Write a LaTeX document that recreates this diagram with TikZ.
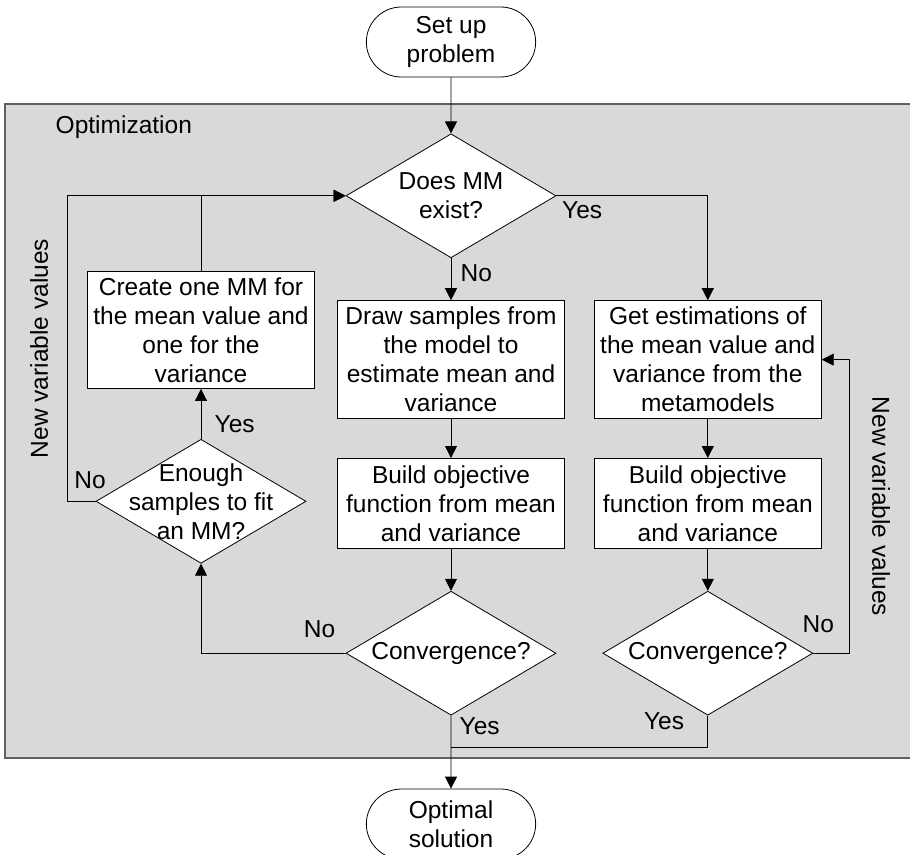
\documentclass[tikz,border=0pt]{standalone}
\usepackage{fontspec}
\setmainfont{Liberation Sans}
\usetikzlibrary{arrows.meta,positioning,shapes.geometric,shapes.misc}
\definecolor{panel}{RGB}{217,217,217}
\definecolor{panel-edge}{RGB}{96,96,96}

\begin{document}
\begin{tikzpicture}[x=1pt, y=-1pt, >={Triangle[length=12pt,width=12pt]},
    font=\fontsize{24.5}{29}\selectfont, line width=0.8pt,
    b/.style={draw, fill=white, align=center, inner sep=2pt, minimum width=227pt},
    d/.style={diamond, draw, fill=white, align=center, aspect=1.69, inner sep=0pt,
      minimum width=210pt, minimum height=124pt},
    t/.style={rounded rectangle, draw, fill=white, align=center,
      minimum width=176pt, minimum height=70pt}]
  \useasboundingbox (0,0) rectangle (910,854);
  % optimization area
  \draw[panel-edge, fill=panel, line width=1.5pt] (5,104) rectangle (915,758);
  \node[anchor=west] (optlbl) at (52,127) {Optimization};

  % middle column
  \node[t] (start) at (451,42) {Set up\\problem};
  \node[d, below=56pt of start] (exist) {Does MM\\exist?};
  \node[b, below=42pt of exist, minimum height=118pt] (samp)
    {Draw samples from\\the model to\\estimate mean and\\variance};
  \node[b, below=39pt of samp, minimum height=90pt] (obj1)
    {Build objective\\function from mean\\and variance};
  \node[d, below=42pt of obj1] (conv1) {Convergence?};
  \node[t, below=73pt of conv1] (end) {Optimal\\solution};
  \coordinate[below=32pt of conv1.south] (join);

  % right column
  \node[b, right=29pt of samp, minimum height=118pt] (est)
    {Get estimations of\\the mean value and\\variance from the\\metamodels};
  \node[b, below=39pt of est, minimum height=90pt] (obj2)
    {Build objective\\function from mean\\and variance};
  \node[d, below=42pt of obj2] (conv2) {Convergence?};

  % left column
  \node[b, minimum height=117pt] (create) at (201,330)
    {Create one MM for\\the mean value and\\one for the\\variance};
  \node[d, below=50pt of create,
    label={[align=center]center:Enough\\samples to fit\\an MM?}] (enough) {};

  \draw[->] (start) -- (exist);
  \draw[->] (exist) -- node[pos=.35, right=6pt]{No} (samp);
  \draw[->] (exist.east) -| node[pos=.085, below=2pt]{Yes} (est);
  \draw[->] (samp) -- (obj1);
  \draw[->] (obj1) -- (conv1);
  \draw[->] (est) -- (obj2);
  \draw[->] (obj2) -- (conv2);
  \draw[->] (conv1.west) -| node[pos=.09, above=12pt]{No} (enough);
  \draw[->] (enough) -- node[pos=.3, right=10pt]{Yes} (create);
  \draw[->] (create) |- (exist.west);
  \draw[->] (enough.west) -- node[pos=.2, above=9pt]{No} ++(-28,0)
    |- node[pos=.25, sloped, above, inner sep=19pt]{New variable values} (exist.west);
  \draw[<-] (est.east) -- ++(28,0)
    |- node[pos=.25, sloped, above, inner sep=22pt]{New variable values}
       node[pos=.93, above=17pt]{No} (conv2.east);
  \draw[->] (conv1) -- node[pos=.15, right=5pt]{Yes} (end);
  \draw (conv2) |- node[pos=.09, left=20pt]{Yes} (join);
\end{tikzpicture}
\end{document}
